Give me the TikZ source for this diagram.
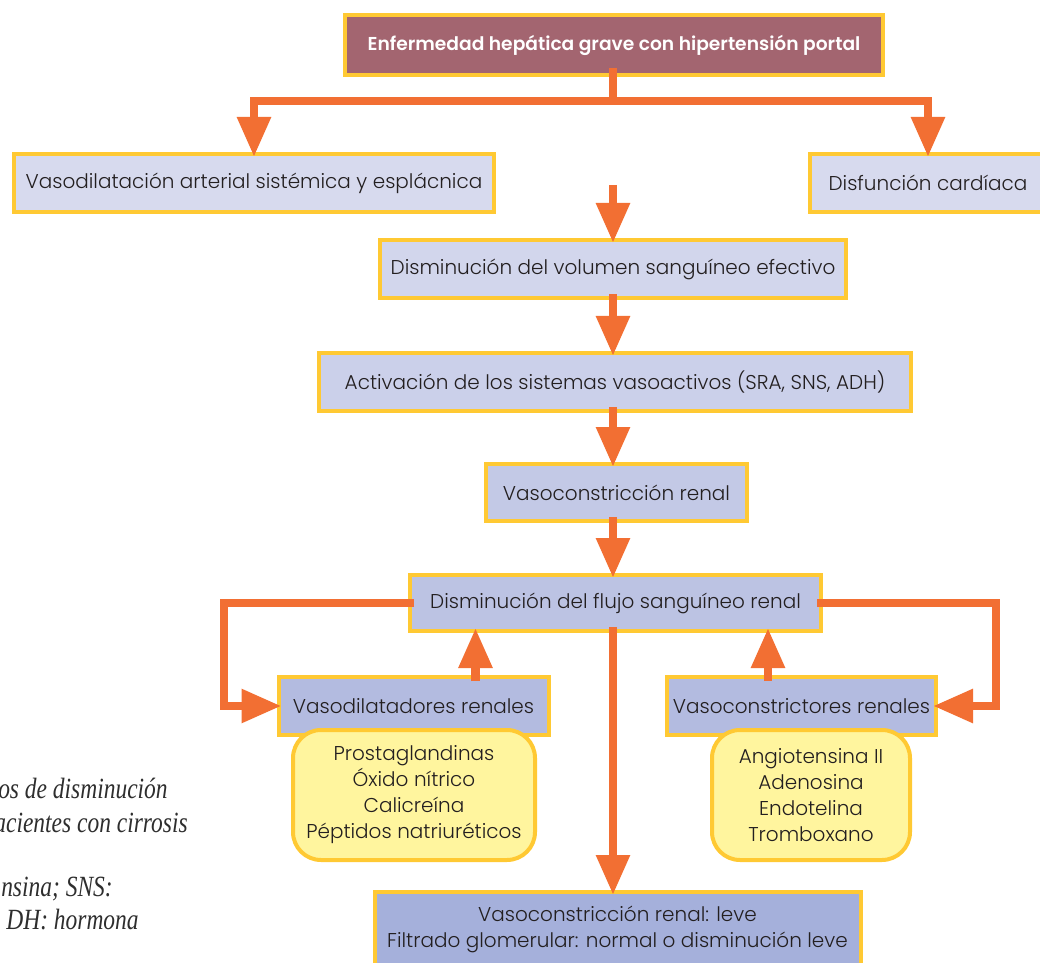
\documentclass[tikz,border=0pt]{standalone}
\usepackage{fontspec}
\setmainfont{Poppins}[UprightFont={* Light}, BoldFont={* SemiBold}]
\newfontfamily\capfont{Liberation Serif}[FakeStretch=0.8]
\usetikzlibrary{arrows.meta,calc}
\newcommand\pxu{*0.75pt}
\definecolor{mauve}{HTML}{A36570}
\definecolor{gold}{HTML}{FFC933}
\definecolor{org}{HTML}{F26F33}
\definecolor{ink}{HTML}{231F20}
\definecolor{capink}{HTML}{2E2E2E}
\definecolor{lavA}{HTML}{D7DAEE}
\definecolor{lavB}{HTML}{D2D6EC}
\definecolor{lavC}{HTML}{CBD0EA}
\definecolor{lavD}{HTML}{C3C9E6}
\definecolor{lavE}{HTML}{BCC3E3}
\definecolor{lavF}{HTML}{B3BBE0}
\definecolor{lavG}{HTML}{A5B0DB}
\definecolor{pale}{HTML}{FFF59E}
\tikzset{
  box/.style={draw=gold, line width=3pt, text=ink, inner sep=0pt,
    minimum height=58\pxu, align=center, font=\fontsize{15}{19.5}\selectfont},
  topbox/.style={box, fill=mauve, text=white, minimum height=60\pxu,
    font=\fontsize{14}{18}\selectfont\bfseries},
  listbox/.style={box, fill=pale, rounded corners=21pt, minimum height=130\pxu},
  link/.style={draw=org, line width=6.5pt, line join=miter},
  arr/.style={link, -{Triangle[width=24pt,length=30pt]}, shorten >=-5\pxu, shorten <=-6\pxu},
  captext/.style={anchor=base east, inner sep=0pt, text=capink,
    font=\capfont\itshape\fontsize{22}{28}\selectfont}
}
\begin{document}
\begin{tikzpicture}[x=0.75pt,y=-0.75pt]
\useasboundingbox (0,0) rectangle (1040,963);
\clip (0,0) rectangle (1040,963);

% caption fragments
\node[captext] (c1) at (168,798) {os de disminución};
\node[captext] (c2) at (188,832) {acientes con cirrosis};
\node[captext] (c3) at (113,896) {nsina; SNS:};
\node[captext] (c4) at (139,929) {DH: hormona};

% boxes
\node[topbox, minimum width=538\pxu] (top) at (614,45) {Enfermedad hepática grave con hipertensión portal};
\node[box, fill=lavA, minimum width=480\pxu] (vasod) at (254,183) {Vasodilatación arterial sistémica y esplácnica};
\node[box, fill=lavA, minimum width=236\pxu] (card) at (928,183) {Disfunción cardíaca};
\node[box, fill=lavB, minimum width=466\pxu] (vol) at (613,269) {Disminución del volumen sanguíneo efectivo};
\node[box, fill=lavC, minimum width=592\pxu] (act) at (615,382) {Activación de los sistemas vasoactivos (SRA, SNS, ADH)};
\node[box, fill=lavD, minimum width=261\pxu, minimum height=57\pxu] (vc) at (616.5,492.5) {Vasoconstricción renal};
\node[box, fill=lavE, minimum width=411\pxu, minimum height=56\pxu] (flujo) at (615.5,603) {Disminución del flujo sanguíneo renal};
\node[box, fill=lavF, minimum width=270\pxu] (vdil) at (413.5,706) {Vasodilatadores renales};
\node[box, fill=lavF, minimum width=269\pxu] (vcons) at (801.5,706) {Vasoconstrictores renales};
\node[listbox, minimum width=242\pxu] (yl) at (414,795) {Prostaglandinas\\Óxido nítrico\\Calicreína\\Péptidos natriuréticos};
\node[listbox, minimum width=198\pxu] (yr) at (811,795) {Angiotensina II\\Adenosina\\Endotelina\\Tromboxano};
\node[box, fill=lavG, minimum width=486\pxu, minimum height=74\pxu] (bot) at (617.5,929) {Vasoconstricción renal: leve\\Filtrado glomerular: normal o disminución leve};

% helper coordinates
\coordinate (spine) at (613,0);
\coordinate (jn) at (613,101);
\coordinate (free) at (613,185);
\coordinate (lk) at (224,0);
\coordinate (rk) at (996,0);

% connectors
\draw[link, shorten <=-9\pxu] (spine |- top.south) -- (jn);
\draw[arr, shorten <=0pt] (jn) -| (vasod.north);
\draw[arr, shorten <=0pt] (jn) -| (card.north);
\draw[arr, shorten <=0pt] (free) -- (spine |- vol.north);
\draw[arr] (spine |- vol.south) -- (spine |- act.north);
\draw[arr] (spine |- act.south) -- (spine |- vc.north);
\draw[arr] (spine |- vc.south) -- (spine |- flujo.north);
\draw[arr] (flujo.west) -- (lk |- flujo.west) |- (vdil.west);
\draw[arr] (flujo.east) -- (rk |- flujo.east) |- (vcons.east);
\draw[arr] ([xshift=62\pxu]vdil.north) -- ([xshift=62\pxu]vdil.north |- flujo.south);
\draw[arr] ([xshift=-33.5\pxu]vcons.north) -- ([xshift=-33.5\pxu]vcons.north |- flujo.south);
\draw[arr] (spine |- flujo.south) -- (spine |- bot.north);
\end{tikzpicture}
\end{document}
